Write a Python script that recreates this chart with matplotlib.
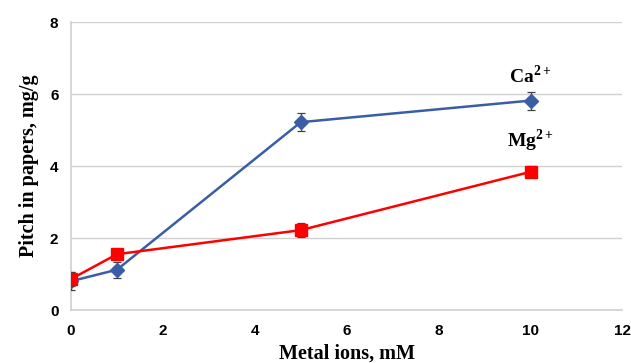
import matplotlib
matplotlib.use("Agg")
import matplotlib.pyplot as plt

# ---------------------------------------------------------
# Data
# ---------------------------------------------------------
metal_mm = [0, 1, 5, 10]
ca_pitch = [0.80, 1.12, 5.22, 5.82]
ca_err = [0.25, 0.22, 0.25, 0.25]
mg_pitch = [0.86, 1.55, 2.22, 3.84]
mg_err = [0.20, 0.15, 0.20, 0.15]

x_ticks = [0, 2, 4, 6, 8, 10, 12]
y_ticks = [0, 2, 4, 6, 8]

BLUE = "#3a5ea6"
RED = "#ff0000"
GRID = "#d0d0d0"

plt.rcParams["mathtext.fontset"] = "custom"
plt.rcParams["mathtext.rm"] = "Liberation Serif"
plt.rcParams["mathtext.bf"] = "Liberation Serif:bold"

fig = plt.figure(figsize=(6.31, 3.63), dpi=100)
ax = fig.add_axes([0.1125, 0.146, 0.874, 0.793])

ax.errorbar(metal_mm, ca_pitch, yerr=ca_err, color=BLUE, lw=1.8,
            marker="D", ms=7, mfc=BLUE, mec=BLUE,
            ecolor="#404040", elinewidth=0.9, capsize=3, capthick=0.9, zorder=3)
ax.errorbar(metal_mm, mg_pitch, yerr=mg_err, color=RED, lw=1.8,
            marker="s", ms=8.5, mfc=RED, mec=RED,
            ecolor="#404040", elinewidth=0.9, capsize=3, capthick=0.9, zorder=4)

ax.set_xlim(0, 12)
ax.set_ylim(0, 8)
ax.set_xticks(x_ticks)
ax.set_yticks(y_ticks)
ax.tick_params(axis="x", length=0, labelsize=11, pad=10)
ax.tick_params(axis="y", length=0, labelsize=11, pad=9)
for lbl in ax.get_xticklabels() + ax.get_yticklabels():
    lbl.set_fontweight("bold")
    lbl.set_family("Liberation Sans")

ax.grid(axis="y", color=GRID, lw=1)
ax.set_axisbelow(True)
for side in ["top", "right"]:
    ax.spines[side].set_visible(False)
for side in ["left", "bottom"]:
    ax.spines[side].set_color(GRID)
    ax.spines[side].set_linewidth(1.2)

ax.set_xlabel("Metal ions, mM", family="Liberation Serif", fontweight="bold",
              fontsize=14.5, labelpad=4)
ax.set_ylabel("Pitch in papers, mg/g", family="Liberation Serif", fontweight="bold",
              fontsize=14.5, labelpad=8)

ax.text(10.0, 6.5, r"Ca$^{\mathbf{2+}}$", family="Liberation Serif", fontweight="bold",
        fontsize=14, ha="center", va="center")
ax.text(10.0, 4.7, r"Mg$^{\mathbf{2+}}$", family="Liberation Serif", fontweight="bold",
        fontsize=14, ha="center", va="center")

fig.savefig("out.png", dpi=100)
